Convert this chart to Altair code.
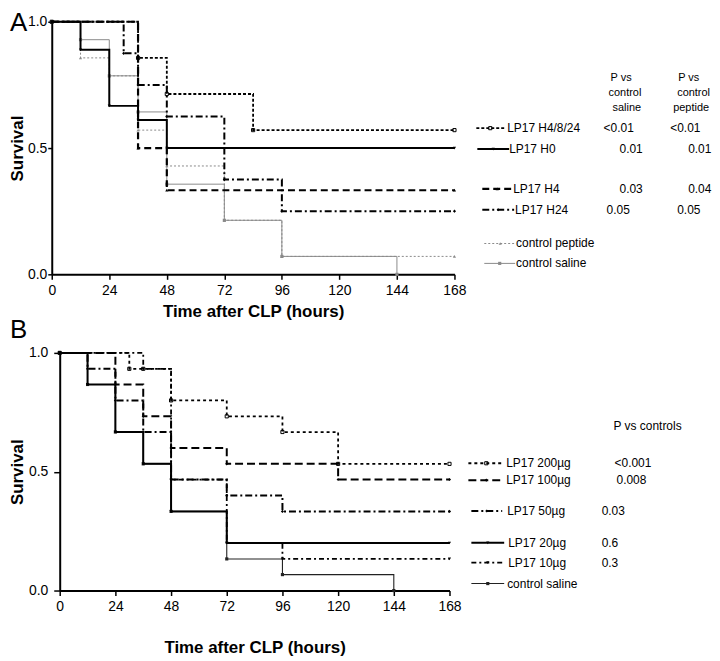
import altair as alt
import pandas as pd

FONT = "Liberation Sans"

# ---------------- data: panel A ----------------
x_ticks = [0, 24, 48, 72, 96, 120, 144, 168]
y_ticks = [0.0, 0.5, 1.0]

a_h4824_t = [0, 36, 48, 84, 168]
a_h4824_s = [1.0, 0.857, 0.714, 0.571, 0.571]
a_h0_t = [0, 12, 24, 36, 48, 168]
a_h0_s = [1.0, 0.889, 0.667, 0.611, 0.5, 0.5]
a_h4_t = [0, 36, 48, 168]
a_h4_s = [1.0, 0.5, 0.333, 0.333]
a_h24_t = [0, 30, 36, 48, 72, 96, 168]
a_h24_s = [1.0, 0.875, 0.75, 0.625, 0.375, 0.25, 0.25]
a_pep_t = [0, 12, 24, 36, 48, 72, 96, 168]
a_pep_s = [1.0, 0.857, 0.786, 0.571, 0.429, 0.214, 0.071, 0.071]
a_sal_t = [0, 12, 24, 36, 48, 72, 96, 144]
a_sal_s = [1.0, 0.929, 0.786, 0.643, 0.357, 0.214, 0.071, 0.0]

a_labels = ["LP17 H4/8/24", "LP17 H0", "LP17 H4", "LP17 H24", "control peptide", "control saline"]
a_p_saline = ["<0.01", "0.01", "0.03", "0.05"]
a_p_peptide = ["<0.01", "0.01", "0.04", "0.05"]
a_head_saline = ["P vs", "control", "saline"]
a_head_peptide = ["P vs", "control", "peptide"]

# ---------------- data: panel B ----------------
b_200_t = [0, 30, 36, 48, 72, 96, 120, 168]
b_200_s = [1.0, 0.933, 0.933, 0.8, 0.733, 0.667, 0.533, 0.533]
b_100_t = [0, 24, 36, 48, 72, 120, 168]
b_100_s = [1.0, 0.867, 0.733, 0.6, 0.533, 0.467, 0.467]
b_50_t = [0, 12, 24, 36, 48, 72, 96, 168]
b_50_s = [1.0, 0.933, 0.8, 0.667, 0.467, 0.4, 0.333, 0.333]
b_20_t = [0, 12, 24, 36, 48, 72, 168]
b_20_s = [1.0, 0.867, 0.667, 0.533, 0.333, 0.2, 0.2]
b_10_t = [0, 36, 48, 72, 96, 168]
b_10_s = [1.0, 0.933, 0.467, 0.2, 0.133, 0.133]
b_sal_t = [0, 12, 24, 36, 48, 72, 96, 144]
b_sal_s = [1.0, 0.867, 0.667, 0.533, 0.333, 0.133, 0.067, 0.0]

b_labels = ["LP17 200µg", "LP17 100µg", "LP17 50µg", "LP17 20µg", "LP17 10µg", "control saline"]
b_p = ["<0.001", "0.008", "0.03", "0.6", "0.3"]
b_head = "P vs controls"

# ---------------- styles ----------------
GRAY = "#8a8a8a"
STY = {
    "LP17 H4/8/24": dict(color="black", w=1.8, dash=[3, 2], shape="square", filled=False),
    "LP17 H0": dict(color="black", w=2.0, dash=None, shape="triangle-down", filled=True),
    "LP17 H4": dict(color="black", w=2.2, dash=[7, 4], shape="triangle-up", filled=True),
    "LP17 H24": dict(color="black", w=2.0, dash=[7, 3, 2, 3], shape="diamond", filled=True),
    "control peptide": dict(color=GRAY, w=1.0, dash=[2, 2], shape="triangle-up", filled=True),
    "control saline": dict(color=GRAY, w=1.0, dash=None, shape="square", filled=True),
    "LP17 200µg": dict(color="black", w=1.8, dash=[3, 3], shape="square", filled=False),
    "LP17 100µg": dict(color="black", w=2.0, dash=[8, 4], shape="diamond", filled=True),
    "LP17 50µg": dict(color="black", w=2.0, dash=[7, 3, 2, 3], shape="diamond", filled=True),
    "LP17 20µg": dict(color="black", w=2.0, dash=None, shape="triangle-down", filled=True),
    "LP17 10µg": dict(color="black", w=1.8, dash=[5, 3, 2, 3], shape="triangle-down", filled=True),
    "B saline": dict(color="#222222", w=1.1, dash=None, shape="square", filled=True),
}
MSIZE = 10


def axes(tick_y, pad_y, tpad_y, tpad_x, y_offset=0):
    common = dict(grid=False, domainColor="black", domainWidth=2, tickColor="black", tickWidth=1.5,
                  labelColor="black", labelFont=FONT, labelFontSize=14, titleFont=FONT,
                  titleFontWeight="bold", titleColor="black", labelFlush=False, labelOverlap=False)
    xax = alt.Axis(values=x_ticks, title="Time after CLP (hours)", tickSize=5, labelPadding=4,
                   titlePadding=tpad_x, titleFontSize=17, **common)
    yax = alt.Axis(values=y_ticks, format=".1f", title="Survival", tickSize=tick_y,
                   labelPadding=pad_y, titlePadding=tpad_y, titleFontSize=17, offset=y_offset, **common)
    return xax, yax


def km(name, sty_key, times, surv, xax, yax, xscale):
    s = STY[sty_key]
    df = pd.DataFrame({"time": times, "surv": surv, "series": name})
    x = alt.X("time:Q", scale=xscale, axis=xax)
    y = alt.Y("surv:Q", scale=alt.Scale(domain=[0, 1], nice=False), axis=yax)
    kw = dict(interpolate="step-after", color=s["color"], strokeWidth=s["w"])
    if s["dash"]:
        kw["strokeDash"] = s["dash"]
    line = alt.Chart(df).mark_line(**kw).encode(x=x, y=y)
    pts = alt.Chart(df).mark_point(shape=s["shape"], size=MSIZE, filled=s["filled"], color=s["color"],
                                   strokeWidth=1, opacity=1).encode(x=x, y=y)
    return [line, pts]


def txt(text, x, y, ox, oy, size=12, weight="normal", baseline="middle"):
    return alt.Chart(pd.DataFrame({"t": [text]})).mark_text(
        font=FONT, fontSize=size, fontWeight=weight, align="left", baseline=baseline, color="black"
    ).encode(text="t:N", x=alt.value(x - ox), y=alt.value(y - oy))


def sample(sty_key, x1, x2, y, ox, oy):
    s = STY[sty_key]
    kw = dict(color=s["color"], strokeWidth=s["w"])
    if s["dash"]:
        kw["strokeDash"] = s["dash"]
    d = pd.DataFrame({"k": [0]})
    rule = alt.Chart(d).mark_rule(**kw).encode(x=alt.value(x1 - ox), x2=alt.value(x2 - ox), y=alt.value(y - oy))
    mk = alt.Chart(d).mark_point(shape=s["shape"], size=MSIZE, filled=s["filled"], color=s["color"],
                                 strokeWidth=1, opacity=1).encode(
        x=alt.value((x1 + x2) / 2 - ox), y=alt.value(y - oy))
    return [rule, mk]


# ---------------- panel A ----------------
AX, AY = 50, 25
xa, ya = axes(4, 1, 1, 6)
xs_a = alt.Scale(domain=[0, 168], nice=False)
layers_a = []
for nm, t, s in [("control saline", a_sal_t, a_sal_s), ("control peptide", a_pep_t, a_pep_s),
                 ("LP17 H24", a_h24_t, a_h24_s), ("LP17 H4", a_h4_t, a_h4_s),
                 ("LP17 H0", a_h0_t, a_h0_s), ("LP17 H4/8/24", a_h4824_t, a_h4824_s)]:
    layers_a += km(nm, nm, t, s, xa, ya, xs_a)

a_rows = [(477, 505, 508, 132), (478, 510, 510, 153), (483, 513, 514, 193),
          (483, 515, 516, 214), (485, 517, 517, 248), (485, 516, 517, 268)]
for lab, (x1, x2, xt, yy) in zip(a_labels, a_rows):
    layers_a += sample(lab, x1, x2, yy, AX, AY)
    layers_a.append(txt(lab, xt, yy, AX, AY, size=12))
for p, (xx, yy) in zip(a_p_saline, [(605, 132), (621, 153), (621, 193), (608, 214)]):
    layers_a.append(txt(p, xx, yy, AX, AY, size=12))
for p, (xx, yy) in zip(a_p_peptide, [(672, 132), (690, 153), (690, 193), (679, 214)]):
    layers_a.append(txt(p, xx, yy, AX, AY, size=12))
for h, (xx, yy) in zip(a_head_saline, [(612, 82), (610, 97), (614, 112)]):
    layers_a.append(txt(h, xx, yy, AX, AY, size=11))
for h, (xx, yy) in zip(a_head_peptide, [(680, 82), (679, 97), (675, 112)]):
    layers_a.append(txt(h, xx, yy, AX, AY, size=11))
layers_a.append(txt("A", 8, 34, AX, AY, size=26, baseline="alphabetic"))
layers_a.append(txt("B", 8, 343, AX, AY, size=26, baseline="alphabetic"))

panel_a = alt.layer(*layers_a).properties(width=405, height=254)

# ---------------- panel B ----------------
# group origin shares A's origin (x=50); B's data area starts 8px further right
BX, BY = 50, 356
xb, yb = axes(6, 6, 2, 26, y_offset=-8)
xs_b = alt.Scale(domain=[0, 168], nice=False, range=[8, 400])
layers_b = []
for nm, key, t, s in [("control saline", "B saline", b_sal_t, b_sal_s), ("LP17 10µg", "LP17 10µg", b_10_t, b_10_s),
                      ("LP17 20µg", "LP17 20µg", b_20_t, b_20_s), ("LP17 50µg", "LP17 50µg", b_50_t, b_50_s),
                      ("LP17 100µg", "LP17 100µg", b_100_t, b_100_s), ("LP17 200µg", "LP17 200µg", b_200_t, b_200_s)]:
    layers_b += km(nm, key, t, s, xb, yb, xs_b)

b_rows = [(469, 505, 507, 467), (469, 505, 507, 484), (472, 503, 508, 515),
          (472, 505, 509, 547), (472, 505, 509, 567), (472, 505, 508, 588)]
b_keys = ["LP17 200µg", "LP17 100µg", "LP17 50µg", "LP17 20µg", "LP17 10µg", "B saline"]
for lab, key, (x1, x2, xt, yy) in zip(b_labels, b_keys, b_rows):
    layers_b += sample(key, x1, x2, yy, BX, BY)
    layers_b.append(txt(lab, xt, yy, BX, BY, size=12))
for p, (xx, yy) in zip(b_p, [(616, 467), (618, 484), (603, 515), (603, 547), (603, 567)]):
    layers_b.append(txt(p, xx, yy, BX, BY, size=12))
layers_b.append(txt(b_head, 615, 430, BX, BY, size=12))

panel_b = alt.layer(*layers_b).properties(width=400, height=239)

chart = alt.concat(panel_a, panel_b, columns=1, spacing=3).properties(
    padding={"left": 0, "top": 0, "right": 0, "bottom": 0}
).configure_view(stroke=None)

chart.save("out.html", embed_options={"renderer": "svg", "actions": False})
